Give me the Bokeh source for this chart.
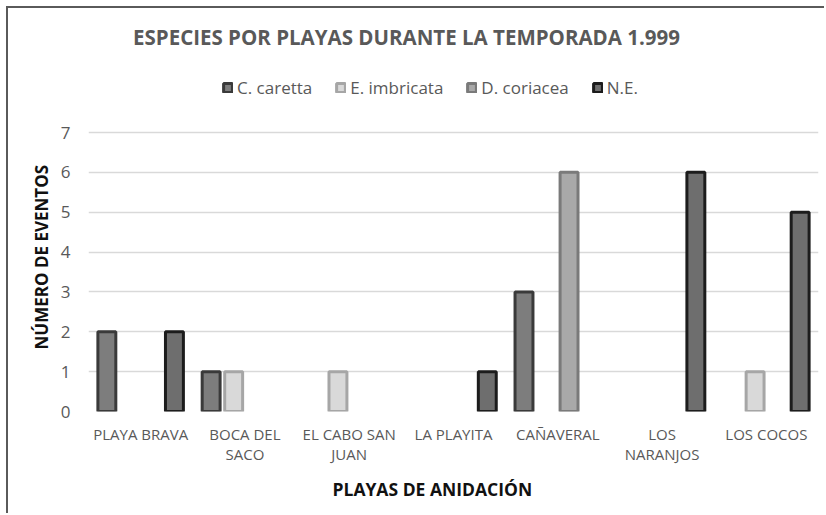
from bokeh.plotting import figure
from bokeh.models import ColumnDataSource, Label, Legend, LegendItem, FactorRange, Title
from bokeh.transform import dodge
from bokeh.embed import file_html
from bokeh.resources import INLINE

# ---- data ----
categories = ["PLAYA BRAVA", "BOCA DEL\nSACO", "EL CABO SAN\nJUAN", "LA PLAYITA",
              "CAÑAVERAL", "LOS\nNARANJOS", "LOS COCOS"]
series_names = ["C. caretta", "E. imbricata", "D. coriacea", "N.E."]
c_caretta = [2, 1, 0, 0, 3, 0, 0]
e_imbricata = [0, 1, 1, 0, 0, 0, 1]
d_coriacea = [0, 0, 0, 0, 6, 0, 0]
n_e = [2, 0, 0, 1, 0, 6, 5]
y_ticks = [0, 1, 2, 3, 4, 5, 6, 7]
y_max = 7

title_text = "ESPECIES POR PLAYAS DURANTE LA TEMPORADA 1.999"
x_title = "PLAYAS DE ANIDACIÓN"
y_title = "NÚMERO DE EVENTOS"

FONT = "Open Sans"
TXT = "#595959"

fills = ["#7d7d7d", "#d9d9d9", "#a9a9a9", "#6e6e6e"]
lines = ["#3a3a3a", "#a6a6a6", "#7a7a7a", "#1c1c1c"]
offsets = [-0.324, -0.108, 0.108, 0.324]

W, H = 818, 507
FRAME_H = 403          # frame spans canvas rows 0..403; the 0..7 plot area is the lower 279 px
PLOT_H = 279
y_top = y_max * FRAME_H / PLOT_H

p = figure(width=W, height=H, x_range=FactorRange(*categories), y_range=(0, y_top),
           output_backend="svg", toolbar_location=None,
           min_border_left=80, min_border_right=8, min_border_top=0, min_border_bottom=104)
p.styles = {"margin-left": "6px", "margin-top": "6px",
            "border-left": "2px solid #5a5a5a", "border-top": "2px solid #5a5a5a"}
p.outline_line_color = None
p.background_fill_color = "white"
p.border_fill_color = "white"

items = []
for name, vals, fc, lc, off in zip(series_names, [c_caretta, e_imbricata, d_coriacea, n_e],
                                  fills, lines, offsets):
    cats = [c for c, v in zip(categories, vals) if v > 0]
    tops = [v for v in vals if v > 0]
    src = ColumnDataSource(dict(cat=cats, top=tops))
    r = p.vbar(x=dodge("cat", off, range=p.x_range), top="top", bottom=0, width=0.172,
               source=src, fill_color=fc, line_color=lc, line_width=3)
    items.append(LegendItem(label=name, renderers=[r]))

# axes
p.xaxis.major_label_text_font = FONT
p.xaxis.major_label_text_font_size = "15px"
p.xaxis.major_label_text_color = TXT
p.xaxis.major_label_text_line_height = 1.0
p.xaxis.major_label_standoff = 12
p.xaxis.major_tick_out = 0
p.xaxis.major_tick_in = 0
p.xaxis.major_tick_line_color = None
p.xaxis.axis_line_color = None

p.yaxis.ticker = y_ticks
p.yaxis.major_label_text_font = FONT
p.yaxis.major_label_text_font_size = "17px"
p.yaxis.major_label_text_color = TXT
p.yaxis.major_label_standoff = 18
p.yaxis.major_tick_out = 0
p.yaxis.major_tick_in = 0
p.yaxis.major_tick_line_color = None
p.yaxis.minor_tick_line_color = None
p.yaxis.axis_line_color = None

p.xgrid.grid_line_color = None
p.ygrid.grid_line_color = "#d9d9d9"
p.ygrid.grid_line_width = 1.5

# chart title and legend sit inside the (tall) frame
p.add_layout(Label(x=318, y=375, x_units="screen", y_units="screen", text=title_text,
                   text_font=FONT, text_font_size="20.5px", text_font_style="bold",
                   text_color=TXT, text_align="center", text_baseline="middle"))

legend = Legend(items=items, orientation="horizontal", location=(134, 312),
                glyph_width=11, glyph_height=11, label_standoff=4, spacing=23,
                padding=0, margin=0, border_line_color=None, background_fill_alpha=0,
                label_text_font=FONT, label_text_font_size="17px", label_text_color=TXT)
p.add_layout(legend)

# axis titles as side-panel titles
xt = Title(text=x_title, align="left", offset=244, standoff=17,
           text_font=FONT, text_font_size="17.5px", text_font_style="bold", text_color="#111111")
p.add_layout(xt, "below")
yt = Title(text=y_title, align="left", offset=62, standoff=10,
           text_font=FONT, text_font_size="17px", text_font_style="bold", text_color="#111111")
p.add_layout(yt, "left")

open("out.html", "w").write(file_html(p, INLINE))
